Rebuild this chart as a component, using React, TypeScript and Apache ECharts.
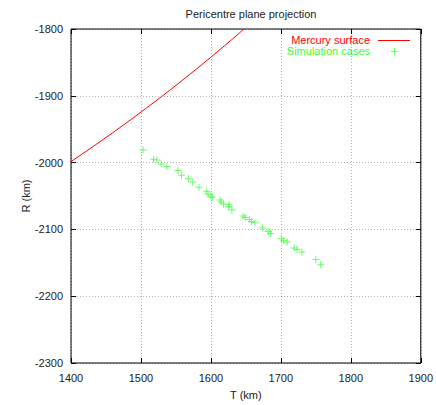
import React, { useEffect, useRef } from "react";
import * as echarts from "echarts";

const surfaceT = [1400, 1410, 1420, 1430, 1440, 1450, 1460, 1470, 1480, 1490, 1500, 1510, 1520, 1530, 1540, 1550, 1560, 1570, 1580, 1590, 1600, 1610, 1620, 1630, 1640, 1647];
const surfaceR = [-1998.4, -1991.4, -1984.2, -1977.0, -1969.8, -1962.4, -1955.0, -1947.5, -1939.9, -1932.2, -1924.5, -1916.6, -1908.7, -1900.7, -1892.6, -1884.4, -1876.2, -1867.8, -1859.4, -1850.8, -1842.2, -1833.4, -1824.6, -1815.7, -1806.7, -1800];

const simT = [1503, 1518, 1523, 1529, 1537, 1553, 1558, 1568, 1574, 1583, 1594, 1596, 1600, 1602, 1613, 1615, 1618, 1625, 1626, 1630, 1646, 1649, 1655, 1658, 1663, 1674, 1682, 1685, 1701, 1704, 1709, 1719, 1723, 1730, 1750, 1757];
const simR = [-1981, -1995, -1996, -2002, -2006, -2012, -2019, -2024, -2029, -2037, -2043, -2047, -2050, -2052, -2056, -2059, -2062, -2066, -2063, -2071, -2080, -2082, -2085, -2088, -2090, -2098, -2103, -2106, -2114, -2117, -2119, -2128, -2130, -2134, -2145, -2153];

const xTicks = [1400, 1500, 1600, 1700, 1800, 1900];
const yTicks = [-2300, -2200, -2100, -2000, -1900, -1800];

const FONT = "Liberation Sans, Arial, Helvetica, sans-serif";
const PLUS = "path://M3,0H4V3H7V4H4V7H3V4H0V3H3Z";
const GREEN = "#33ff33";

export default function App() {
  const ref = useRef<HTMLDivElement>(null);
  useEffect(() => {
    document.body.style.margin = "0";
    const chart = echarts.init(ref.current!, null, { renderer: "svg" });
    const xMin = xTicks[0], xMax = xTicks[xTicks.length - 1];
    const yMin = yTicks[0], yMax = yTicks[yTicks.length - 1];
    const grid = "rgba(0,0,0,0.3)";
    const fmt = (v: number) => String(v);
    chart.setOption({
      animation: false,
      backgroundColor: "#fff",
      title: {
        text: "Pericentre plane projection",
        left: 251,
        top: 8,
        padding: 0,
        textAlign: "center",
        textStyle: { fontFamily: FONT, fontSize: 11, fontWeight: "normal", color: "#222" },
      },
      grid: { left: 71, right: 13, top: 29, bottom: 36, show: true, borderColor: "#000", borderWidth: 1, backgroundColor: "transparent" },
      xAxis: [
        {
          type: "value", min: xMin, max: xMax, interval: 100,
          name: "T (km)", nameLocation: "middle", nameGap: 26, nameMoveOverlap: false,
          nameTextStyle: { fontFamily: FONT, fontSize: 11, color: "#222" },
          axisLine: { show: false },
          axisTick: { show: true, inside: true, length: 5, lineStyle: { color: "#000" } },
          axisLabel: { fontFamily: FONT, fontSize: 11, color: "#222", margin: 9, formatter: fmt, showMaxLabel: true, showMinLabel: true },
          splitLine: { show: true, lineStyle: { color: grid, type: [1, 2] } },
        },
        {
          type: "value", position: "top", min: xMin, max: xMax, interval: 100,
          axisLine: { show: false },
          axisTick: { show: true, inside: true, length: 5, lineStyle: { color: "#000" } },
          axisLabel: { show: false },
          splitLine: { show: false },
        },
      ],
      yAxis: [
        {
          type: "value", min: yMin, max: yMax, interval: 100,
          name: "R (km)", nameLocation: "middle", nameGap: 40, nameMoveOverlap: false,
          nameTextStyle: { fontFamily: FONT, fontSize: 11, color: "#222" },
          axisLine: { show: false },
          axisTick: { show: true, inside: true, length: 5, lineStyle: { color: "#000" } },
          axisLabel: { fontFamily: FONT, fontSize: 11, color: "#222", margin: 8, formatter: fmt },
          splitLine: { show: true, lineStyle: { color: grid, type: [1, 2] } },
        },
        {
          type: "value", position: "right", min: yMin, max: yMax, interval: 100,
          axisLine: { show: false },
          axisTick: { show: true, inside: true, length: 5, lineStyle: { color: "#000" } },
          axisLabel: { show: false },
          splitLine: { show: false },
        },
      ],
      series: [
        {
          name: "Mercury surface",
          type: "line",
          smooth: false,
          showSymbol: false,
          symbol: "none",
          clip: true,
          lineStyle: { color: "#ff0000", width: 1 },
          data: surfaceT.map((t, i) => [t, surfaceR[i]]),
        },
        {
          name: "Simulation cases",
          type: "scatter",
          symbol: PLUS,
          symbolSize: 7,
          itemStyle: { color: GREEN, opacity: 0.75 },
          data: simT.map((t, i) => [t, simR[i]]),
        },
      ],
      graphic: [
        { type: "text", x: 370, y: 40, style: { text: "Mercury surface", fill: "#ff0000", font: `11px ${FONT}`, align: "right", verticalAlign: "middle" } },
        { type: "line", shape: { x1: 378, y1: 40.5, x2: 410, y2: 40.5 }, style: { stroke: "#ff0000", lineWidth: 1 } },
        { type: "text", x: 370, y: 51, style: { text: "Simulation cases", fill: GREEN, font: `11px ${FONT}`, align: "right", verticalAlign: "middle" } },
        { type: "line", shape: { x1: 391, y1: 51.5, x2: 398, y2: 51.5 }, style: { stroke: GREEN, lineWidth: 1, opacity: 0.75 } },
        { type: "line", shape: { x1: 394.5, y1: 48, x2: 394.5, y2: 55 }, style: { stroke: GREEN, lineWidth: 1, opacity: 0.75 } },
      ],
    });
    return () => chart.dispose();
  }, []);
  return <div ref={ref} style={{ width: 436, height: 405 }} />;
}
